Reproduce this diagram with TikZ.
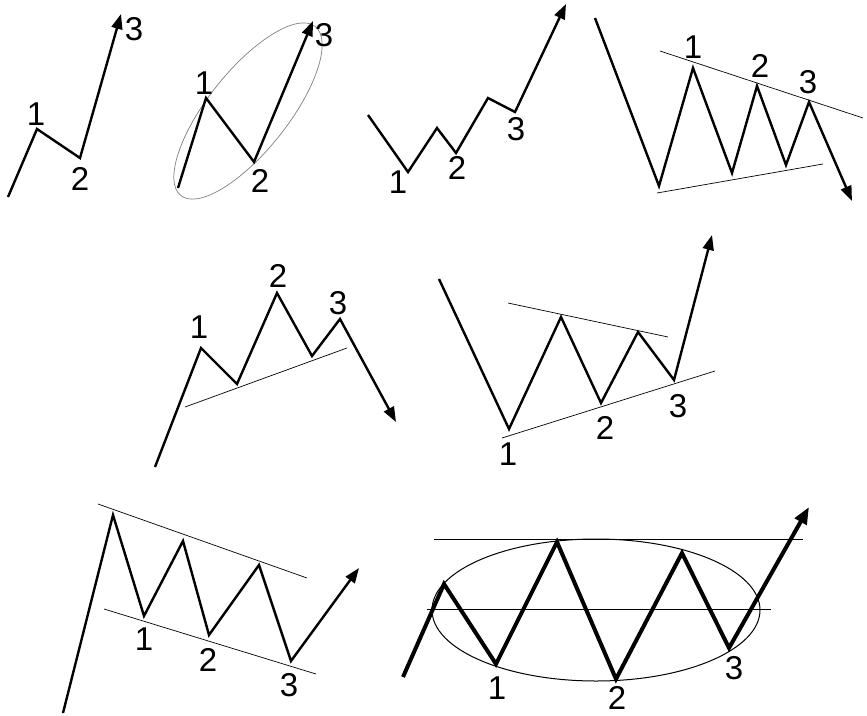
\documentclass[tikz,border=0pt]{standalone}
\usepackage{fontspec}
\setmainfont{Liberation Sans}
\usetikzlibrary{arrows.meta}
\begin{document}
\begin{tikzpicture}[x=1pt,y=-1pt,
  wave/.style={line width=2.4pt, line join=miter, -{Triangle[length=15pt,width=11pt]}},
  boldwave/.style={line width=4pt, line join=miter, -{Triangle[length=17pt,width=13pt]}},
  guide/.style={line width=0.7pt},
  lab/.style={inner sep=0pt, font=\fontsize{33}{33}\selectfont}]
\useasboundingbox (0,0) rectangle (867,715);
% ---------- panel 1
\coordinate (a0) at (8,197);
\coordinate (a1) at (37,129);
\coordinate (a2) at (80,158);
\coordinate (a3) at (121,14);
\draw[wave] (a0) -- (a1) -- (a2) -- (a3);
\node[lab] (la1) at (36,114) {1};
\node[lab] (la2) at (80,179) {2};
\node[lab] (la3) at (134,29) {3};
% ---------- panel 2
\coordinate (b0) at (178,188);
\coordinate (b1) at (206,98);
\coordinate (b2) at (254,162);
\coordinate (b3) at (313,21);
\coordinate (bc) at (248,111);
\draw[gray, line width=0.7pt, rotate around={51.5:(bc)}] (bc) ellipse [x radius=108, y radius=40];
\draw[wave] (b0) -- (b1) -- (b2) -- (b3);
\node[lab] (lb1) at (204,83) {1};
\node[lab] (lb2) at (260,181) {2};
\node[lab] (lb3) at (324,35) {3};
% ---------- panel 3
\coordinate (c0) at (368,115);
\coordinate (c1) at (408,172);
\coordinate (c2) at (437,128);
\coordinate (c3) at (456,153);
\coordinate (c4) at (488,98);
\coordinate (c5) at (515,112);
\coordinate (c6) at (566,4);
\draw[wave] (c0) -- (c1) -- (c2) -- (c3) -- (c4) -- (c5) -- (c6);
\node[lab] (lc1) at (398,182) {1};
\node[lab] (lc2) at (457,168) {2};
\node[lab] (lc3) at (516,129) {3};
% ---------- panel 4
\coordinate (d0) at (595,18);
\coordinate (d1) at (659,186);
\coordinate (d2) at (693,68);
\coordinate (d3) at (732,173);
\coordinate (d4) at (757,86);
\coordinate (d5) at (786,165);
\coordinate (d6) at (809,102);
\coordinate (d7) at (852,201);
\coordinate (du0) at (660,51);
\coordinate (du1) at (863,118);
\coordinate (dl0) at (657,193);
\coordinate (dl1) at (823,164);
\draw[guide] (du0) -- (du1);
\draw[guide] (dl0) -- (dl1);
\draw[wave] (d0) -- (d1) -- (d2) -- (d3) -- (d4) -- (d5) -- (d6) -- (d7);
\node[lab] (ld1) at (693,47) {1};
\node[lab] (ld2) at (760,66) {2};
\node[lab] (ld3) at (808,82) {3};
% ---------- panel 5
\coordinate (e0) at (155,467);
\coordinate (e1) at (201,348);
\coordinate (e2) at (237,384);
\coordinate (e3) at (277,293);
\coordinate (e4) at (312,356);
\coordinate (e5) at (340,319);
\coordinate (e6) at (396,422);
\coordinate (el0) at (185,407);
\coordinate (el1) at (347,348);
\draw[guide] (el0) -- (el1);
\draw[wave] (e0) -- (e1) -- (e2) -- (e3) -- (e4) -- (e5) -- (e6);
\node[lab] (le1) at (199,327) {1};
\node[lab] (le2) at (278,276) {2};
\node[lab] (le3) at (338,303) {3};
% ---------- panel 6
\coordinate (f0) at (439,279);
\coordinate (f1) at (509,429);
\coordinate (f2) at (561,317);
\coordinate (f3) at (601,403);
\coordinate (f4) at (638,332);
\coordinate (f5) at (674,380);
\coordinate (f6) at (712,235);
\coordinate (fu0) at (508,303);
\coordinate (fu1) at (668,337);
\coordinate (fl0) at (502,438);
\coordinate (fl1) at (715,371);
\draw[guide] (fu0) -- (fu1);
\draw[guide] (fl0) -- (fl1);
\draw[wave] (f0) -- (f1) -- (f2) -- (f3) -- (f4) -- (f5) -- (f6);
\node[lab] (lf1) at (508,454) {1};
\node[lab] (lf2) at (605,428) {2};
\node[lab] (lf3) at (678,406) {3};
% ---------- panel 7
\coordinate (g0) at (63,713);
\coordinate (g1) at (113,515);
\coordinate (g2) at (144,616);
\coordinate (g3) at (183,541);
\coordinate (g4) at (209,635);
\coordinate (g5) at (259,565);
\coordinate (g6) at (291,661);
\coordinate (g7) at (359,568);
\coordinate (gu0) at (98,504);
\coordinate (gu1) at (307,578);
\coordinate (gl0) at (104,609);
\coordinate (gl1) at (316,674);
\draw[guide] (gu0) -- (gu1);
\draw[guide] (gl0) -- (gl1);
\draw[wave] (g0) -- (g1) -- (g2) -- (g3) -- (g4) -- (g5) -- (g6) -- (g7);
\node[lab] (lg1) at (144,639) {1};
\node[lab] (lg2) at (208,660) {2};
\node[lab] (lg3) at (289,685) {3};
% ---------- panel 8
\coordinate (h0) at (403,677);
\coordinate (h1) at (444,584);
\coordinate (h2) at (496,664);
\coordinate (h3) at (557,542);
\coordinate (h4) at (616,679);
\coordinate (h5) at (682,553);
\coordinate (h6) at (729,648);
\coordinate (h7) at (809,507);
\coordinate (hu0) at (434,539);
\coordinate (hu1) at (803,539);
\coordinate (hm0) at (427,609);
\coordinate (hm1) at (771,609);
\coordinate (hc) at (596,610);
\draw[line width=1pt] (hc) ellipse [x radius=164, y radius=71];
\draw[guide, line width=1pt] (hu0) -- (hu1);
\draw[guide, line width=1pt] (hm0) -- (hm1);
\draw[boldwave] (h0) -- (h1) -- (h2) -- (h3) -- (h4) -- (h5) -- (h6) -- (h7);
\node[lab] (lh1) at (497,688) {1};
\node[lab] (lh2) at (617,698) {2};
\node[lab] (lh3) at (734,668) {3};
\end{tikzpicture}
\end{document}
